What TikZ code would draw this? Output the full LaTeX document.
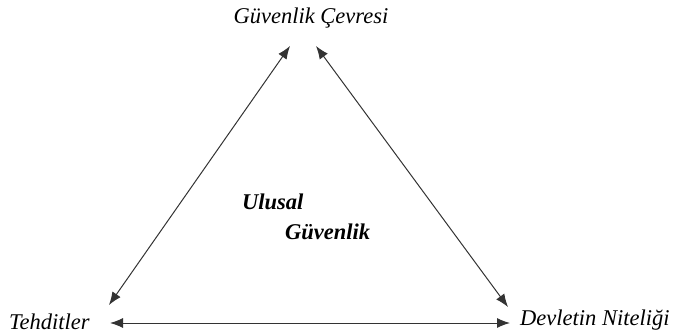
\documentclass[tikz,border=0pt]{standalone}
\usepackage{fontspec}
\setmainfont{Liberation Serif}
\usetikzlibrary{arrows.meta}
\begin{document}
\begin{tikzpicture}[x=1pt,y=-1pt,
  lbl/.style={font=\fontsize{22.5}{26}\selectfont\itshape, inner sep=0pt},
  blbl/.style={font=\fontsize{22.5}{26}\selectfont\bfseries\itshape, inner sep=0pt},
  link/.style={draw=black!80, line width=1pt, {Latex[length=13pt,width=10pt]}-{Latex[length=13pt,width=10pt]}}]
\useasboundingbox (0,0) rectangle (674,336);
\node[lbl] (top) at (311,18) {Güvenlik Çevresi};
\node[lbl,anchor=west] (left) at (9,322) {Tehditler};
\node[lbl,anchor=west] (right) at (520,320) {Devletin Niteliği};
\node[blbl,anchor=west] (c1) at (242,202) {Ulusal};
\node[blbl,anchor=west] (c2) at (285,232) {Güvenlik};
\coordinate (tl) at (290,46);
\coordinate (tr) at (316,46);
\coordinate (bl) at (109,305);
\coordinate (br) at (508,307);
\coordinate (hl) at (110,323);
\coordinate (hr) at (510,323);
\draw[link] (tl) -- (bl);
\draw[link] (tr) -- (br);
\draw[link] (hl) -- (hr);
\end{tikzpicture}
\end{document}
